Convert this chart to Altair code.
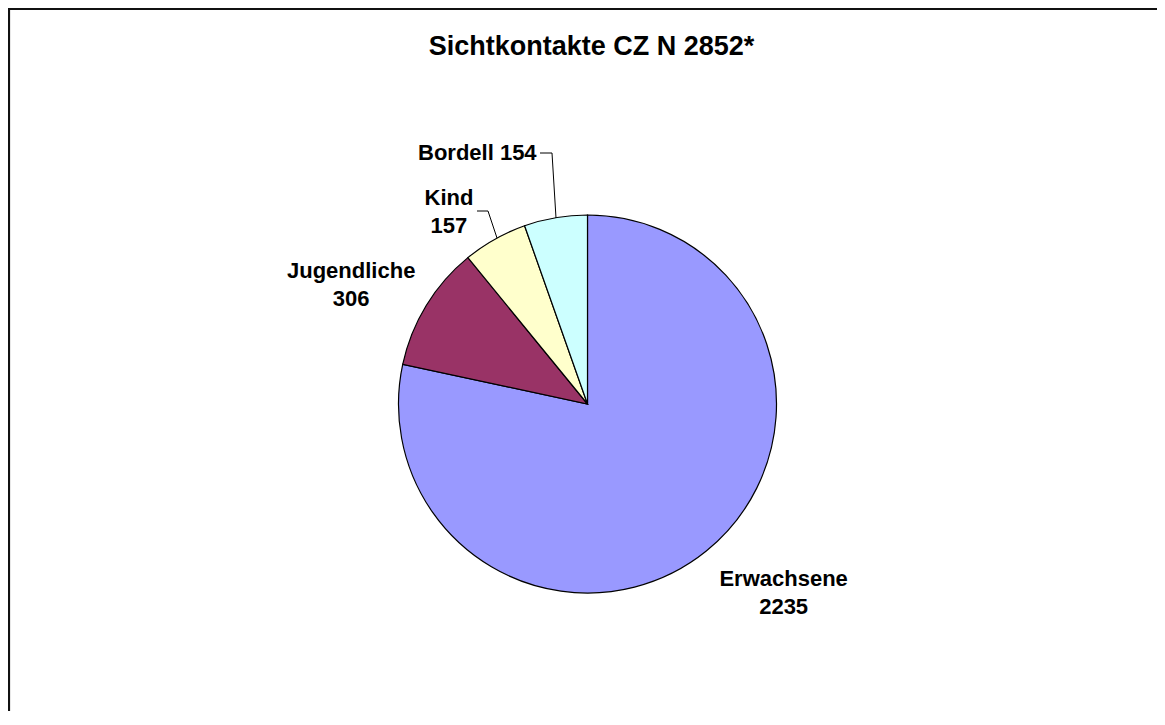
import altair as alt
import pandas as pd

# ---- data ----
categories = ["Erwachsene", "Jugendliche", "Kind", "Bordell"]
values = [2235, 306, 157, 154]
labels = ["Erwachsene\n2235", "Jugendliche\n306", "Kind\n157", "Bordell 154"]
colors = ["#9999FF", "#993366", "#FFFFCC", "#CCFFFF"]
title_text = "Sichtkontakte CZ N 2852*"

total = sum(values)
df = pd.DataFrame({
    "category": categories,
    "value": values,
    "label": labels,
    "order": list(range(len(categories))),
})

FONT = "Liberation Sans"
CX, CY = 576.5, 393   # pie centre in plot coordinates
R = 189

theta_scale = alt.Scale(domain=[0, total])
color_enc = alt.Color("category:N",
                      scale=alt.Scale(domain=categories, range=colors),
                      legend=None)

base = alt.Chart(df)

pie = base.mark_arc(radius=R, stroke="black", strokeWidth=1.2).encode(
    theta=alt.Theta("value:Q", stack=True, scale=theta_scale),
    color=color_enc,
    order=alt.Order("order:Q"),
    x=alt.value(CX),
    y=alt.value(CY),
)

# per-label offsets (Excel-style label placement)
label_offsets = {
    "Erwachsene": (39, -19.5),
    "Jugendliche": (-23, -3),
    "Kind": (-16, 11.5),
    "Bordell": (-68, -5),
}

text_layers = []
for cat in categories:
    ddx, ddy = label_offsets[cat]
    t = base.transform_window(
        cum="sum(value)", sort=[alt.SortField("order")]
    ).transform_calculate(
        mid="datum.cum - datum.value / 2"
    ).transform_filter(
        alt.datum.category == cat
    ).mark_text(
        radius=250, dx=ddx, dy=ddy, font=FONT, fontSize=22, fontWeight="bold",
        lineBreak="\n", lineHeight=28.5, align="center", baseline="middle",
        color="black",
    ).encode(
        theta=alt.Theta("mid:Q", scale=theta_scale),
        text="label:N",
        x=alt.value(CX),
        y=alt.value(CY),
    )
    text_layers.append(t)

one = alt.Data(values=[{"k": 1}])

# chart title
title = alt.Chart(one).mark_text(
    font=FONT, fontSize=27, fontWeight="bold", color="black",
    align="center", baseline="alphabetic",
).encode(text=alt.value(title_text), x=alt.value(580.5), y=alt.value(44))

# frame (left and top edges visible in the reference)
frame_left = alt.Chart(one).mark_rule(color="#111111", strokeWidth=2.2).encode(
    x=alt.value(-2), y=alt.value(-3), y2=alt.value(720))
frame_top = alt.Chart(one).mark_rule(color="#111111", strokeWidth=2.2).encode(
    y=alt.value(-2), x=alt.value(-3), x2=alt.value(1160))

# leader lines for the two small slices
def leader(x1, y1, x2, y2):
    return alt.Chart(one).mark_rule(color="black", strokeWidth=1).encode(
        x=alt.value(x1), y=alt.value(y1), x2=alt.value(x2), y2=alt.value(y2))

leaders = [
    leader(466, 200, 477, 200), leader(477, 200, 486, 227),
    leader(529, 142, 541, 142), leader(541, 142, 545, 207),
]

chart = alt.layer(pie, *text_layers, *leaders, title, frame_left, frame_top).properties(
    width=1146, height=700,
    autosize=alt.AutoSizeParams(type="none"),
    padding={"left": 3, "top": 3, "right": 0, "bottom": 0},
).configure_view(stroke=None)

chart.save("out.html", embed_options={"renderer": "svg", "actions": False})
